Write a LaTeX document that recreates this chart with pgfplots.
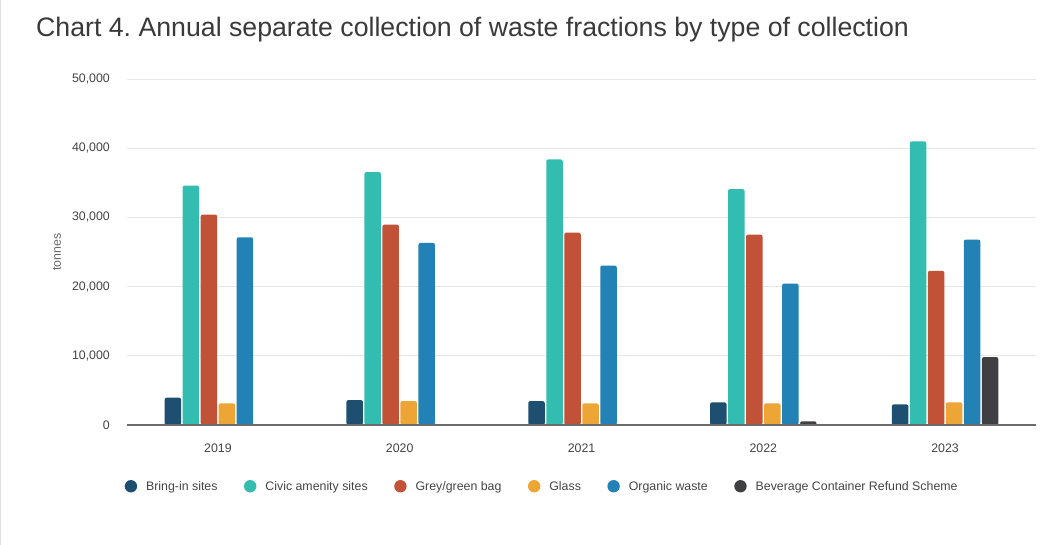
\documentclass[border=0pt]{standalone}
\usepackage{fontspec}
\setmainfont{Liberation Sans}
\usepackage{pgfplots}
\pgfplotsset{compat=1.18}
\definecolor{cBring}{HTML}{1F4F70}
\definecolor{cCivic}{HTML}{33BDB0}
\definecolor{cGrey}{HTML}{C15137}
\definecolor{cGlass}{HTML}{EDA536}
\definecolor{cOrganic}{HTML}{2282B6}
\definecolor{cBCRS}{HTML}{404042}
\definecolor{cTitle}{HTML}{3A3A3A}
\definecolor{cTick}{HTML}{444444}
\definecolor{cLabel}{HTML}{666666}
\definecolor{cGrid}{HTML}{E6E6E6}
\definecolor{cBase}{HTML}{6B6B6B}
\frenchspacing
\begin{document}
\begin{tikzpicture}
\fill[white] (0,0) rectangle (1046bp,-545bp);
\path[use as bounding box] (0,0) rectangle (1046bp,-545bp);
\draw[black!12, line width=1.2bp] (0.6bp,0) -- (0.6bp,-545bp);
\node[anchor=base west, font=\fontsize{26.8}{30}\selectfont, text=cTitle, inner sep=0pt] at (36bp,-36bp) {Chart 4. Annual separate collection of waste fractions by type of collection};
\begin{axis}[
  at={(127bp,-425bp)}, anchor=south west,
  width=909bp, height=346bp, scale only axis,
  xmin=-0.5, xmax=4.5, ymin=0, ymax=50000,
  ybar=1.5bp, bar width=16.5bp,
  xtick={0,1,2,3,4}, xticklabels={2019,2020,2021,2022,2023},
  ytick={0,10000,20000,30000,40000,50000},
  scaled y ticks=false,
  /pgf/number format/.cd, 1000 sep={,}, assume math mode=true, /pgfplots/.cd,
  axis line style={draw=none},
  major tick length=0pt,
  tick style={draw=none},
  ymajorgrids, grid style={draw=cGrid, line width=1bp},
  tick label style={font=\fontsize{12.4}{14}\selectfont, text=cTick},
  yticklabel style={inner sep=0pt, anchor=east, xshift=-17bp},
  xticklabel style={inner sep=0pt, anchor=north, yshift=-18.5bp},
  ylabel={tonnes},
  every axis y label/.style={at={(axis description cs:-0.077,0.5)}, rotate=90, anchor=center, font=\fontsize{12.4}{14}\selectfont, text=cLabel},
  legend columns=6,
  legend image code/.code={\fill[#1] (6bp,0.5bp) circle[radius=6.2bp];},
  legend style={at={(axis description cs:-0.0025,-0.177)}, anchor=west, draw=none, fill=none, inner sep=0pt, outer sep=0pt,
    font=\fontsize{12.4}{14}\selectfont, text=cTick, nodes={inner sep=0pt},
    /tikz/every odd column/.append style={column sep=9bp},
    /tikz/every even column/.append style={column sep=26.5bp}},
  every axis plot/.append style={draw=none, rounded corners=2bp},
]
\addplot[fill=cBring] coordinates {(0,3940) (1,3600) (2,3460) (3,3270) (4,2980)};
\addlegendentry{Bring-in sites}
\addplot[fill=cCivic] coordinates {(0,34590) (1,36550) (2,38380) (3,34100) (4,40980)};
\addlegendentry{Civic amenity sites}
\addplot[fill=cGrey] coordinates {(0,30400) (1,28960) (2,27800) (3,27510) (4,22270)};
\addlegendentry{Grey/green bag}
\addplot[fill=cGlass] coordinates {(0,3130) (1,3460) (2,3130) (3,3130) (4,3270)};
\addlegendentry{Glass}
\addplot[fill=cOrganic] coordinates {(0,27130) (1,26310) (2,23040) (3,20440) (4,26790)};
\addlegendentry{Organic waste}
\addplot[fill=cBCRS] coordinates {(3,530) (4,9810)};
\addlegendentry{Beverage Container Refund Scheme}
\draw[cBase, line width=1.5bp] (axis cs:-0.5,0) -- (axis cs:4.5,0);
\end{axis}
\end{tikzpicture}
\end{document}
